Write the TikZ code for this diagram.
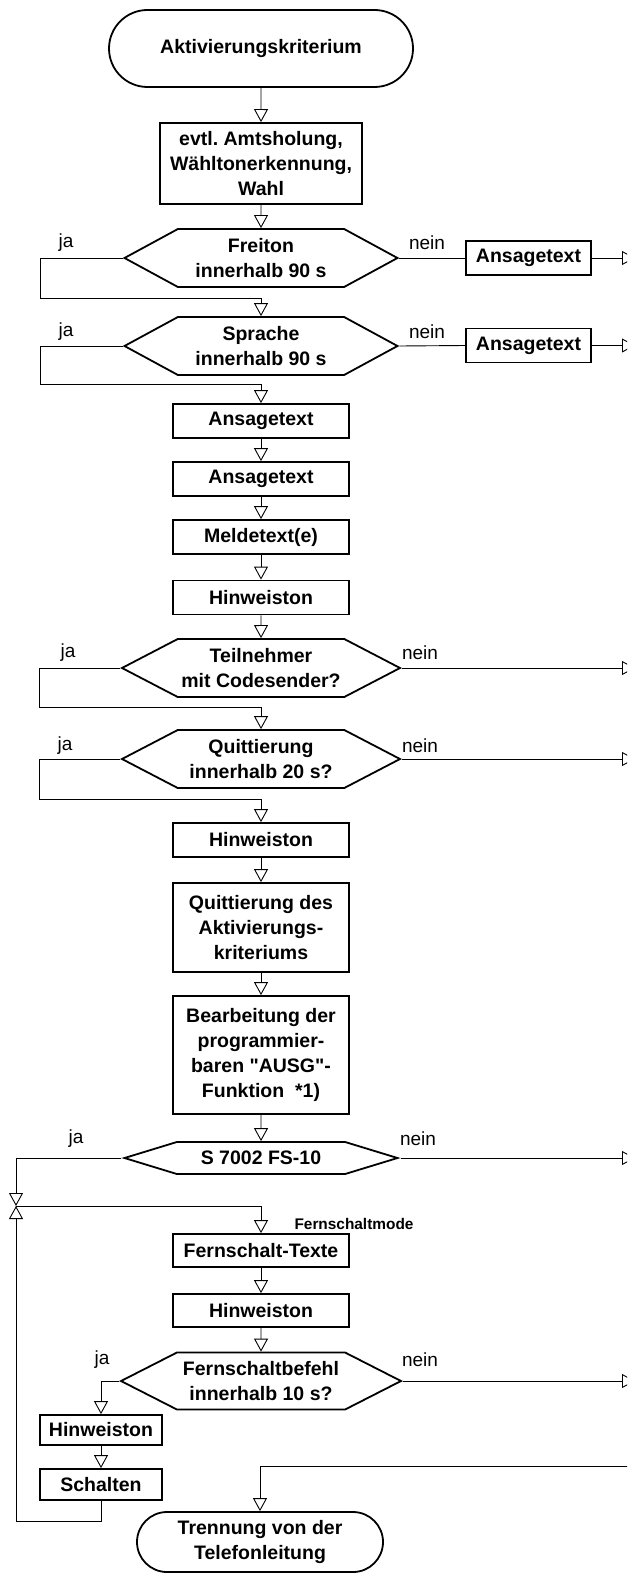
\documentclass[tikz,border=0pt]{standalone}
\usepackage{fontspec}
\setmainfont{Liberation Sans}[Ligatures=TeXOff]
\frenchspacing
\usetikzlibrary{arrows.meta,positioning,shapes.misc,shapes.symbols}

\begin{document}
\begin{tikzpicture}[x=1pt,y=-1pt,
    proc/.style={draw, line width=1.8pt, align=center, inner sep=1pt,
        font=\bfseries\fontsize{19.5}{25}\selectfont,
        minimum width=176pt, minimum height=34pt},
    term/.style={proc, rounded rectangle},
    decide/.style={proc, signal, signal to=east and west, signal pointer angle=#1},
    flow/.style={line width=0.9pt, -{Triangle[open,length=13pt,width=14pt]}},
    lbl/.style={font=\fontsize{19}{23}\selectfont, inner sep=0pt}]
    \useasboundingbox (0,0) rectangle (627,1573);
    \clip (0,0) rectangle (627,1573);

    % main column
    \node[term, minimum width=306pt, minimum height=77pt] (start) at (261,48.5) {Aktivierungskriterium};
    \node[proc, minimum width=202pt, minimum height=81pt] (amt) at (261,163.5) {evtl. Amtsholung,\\W\"ahltonerkennung,\\Wahl};
    \node[decide=57, minimum width=273pt, minimum height=58pt] (frei) at (261,258) {Freiton\\innerhalb 90 s};
    \node[proc, minimum width=125pt] (ans1) at (528.5,258) {Ansagetext};
    \node[decide=57, minimum width=273pt, minimum height=58pt] (spr) at (261,346) {Sprache\\innerhalb 90 s};
    \node[proc, minimum width=125pt] (ans2) at (528.5,345.5) {Ansagetext};
    \node[proc] (ans3) at (261,421) {Ansagetext};
    \node[proc] (ans4) at (261,479) {Ansagetext};
    \node[proc] (meld) at (261,537) {Meldetext(e)};
    \node[proc] (hin1) at (261,597.5) {Hinweiston};
    \node[decide=55, minimum width=278pt, minimum height=58pt] (teil) at (261,668) {Teilnehmer\\mit Codesender?};
    \node[decide=55, minimum width=278pt, minimum height=58pt] (quit) at (261,759) {Quittierung\\innerhalb 20 s?};
    \node[proc] (hin2) at (261,840) {Hinweiston};
    \node[proc, minimum height=89pt] (qdes) at (261,927.5) {Quittierung des\\Aktivierungs-\\kriteriums};
    \node[proc, minimum height=118pt] (bearb) at (261,1055) {Bearbeitung der\\programmier-\\baren "AUSG"-\\Funktion~ *1)};
    \node[decide=34, minimum width=273pt, minimum height=32pt] (fs) at (261,1158) {S 7002 FS-10};
    \node[proc, minimum height=33pt] (fstx) at (261,1250.5) {Fernschalt-Texte};
    \node[proc, minimum height=33pt] (hin3) at (261,1310.5) {Hinweiston};
    \node[decide=54, minimum width=280pt, minimum height=57pt] (fsb) at (261,1381) {Fernschaltbefehl\\innerhalb 10 s?};
    \node[proc, minimum width=122pt, minimum height=30pt] (hin4) at (101,1430) {Hinweiston};
    \node[proc, minimum width=122pt, minimum height=31pt] (schalt) at (101,1484.5) {Schalten};
    \node[term, minimum width=248pt, minimum height=60pt] (trenn) at (260,1542) {Trennung von der\\Telefonleitung};
    \node[font=\bfseries\fontsize{15.4}{18}\selectfont, inner sep=0pt] (mode) at (354,1224) {Fernschaltmode};

    % ja / nein
    \node[lbl] (ja1) at (66,243) {ja};
    \node[lbl] (nein1) at (427,243) {nein};
    \node[lbl] (ja2) at (66,332) {ja};
    \node[lbl] (nein2) at (427,332) {nein};
    \node[lbl] (ja3) at (68,653) {ja};
    \node[lbl] (nein3) at (420,653) {nein};
    \node[lbl] (ja4) at (65,746) {ja};
    \node[lbl] (nein4) at (420,746) {nein};
    \node[lbl] (ja5) at (76,1139) {ja};
    \node[lbl] (nein5) at (418,1139) {nein};
    \node[lbl] (ja6) at (102,1360) {ja};
    \node[lbl] (nein6) at (420,1360) {nein};

    % loop and exit points
    \coordinate (l1) at (40,298);
    \coordinate (l2) at (40,384);
    \coordinate (l3) at (39,707);
    \coordinate (l4) at (39,799);
    \coordinate (jn) at (16,1206);
    \coordinate (lb) at (16,1521);
    \coordinate (r1) at (635,258);
    \coordinate (r2) at (635,345.5);
    \coordinate (r3) at (635,668);
    \coordinate (r4) at (635,759);
    \coordinate (r5) at (635,1158);
    \coordinate (r6) at (635,1381);
    \coordinate (r7) at (640,1466);

    % connectors
    \draw[flow] (start) -- (amt);
    \draw[flow] (amt) -- (frei);
    \draw[line width=0.9pt] (frei.east) -- (ans1.west);
    \draw[flow] (ans1.east) -- (r1);
    \draw[flow] (frei.west) -| (l1) -| (spr.north);
    \draw[line width=0.9pt] (spr.east) -- (ans2.west);
    \draw[flow] (ans2.east) -- (r2);
    \draw[flow] (spr.west) -| (l2) -| (ans3.north);
    \draw[flow] (ans3) -- (ans4);
    \draw[flow] (ans4) -- (meld);
    \draw[flow] (meld) -- (hin1);
    \draw[flow] (hin1) -- (teil);
    \draw[flow] (teil.east) -- (r3);
    \draw[flow] (teil.west) -| (l3) -| (quit.north);
    \draw[flow] (quit.east) -- (r4);
    \draw[flow] (quit.west) -| (l4) -| (hin2.north);
    \draw[flow] (hin2) -- (qdes);
    \draw[flow] (qdes) -- (bearb);
    \draw[flow] (bearb) -- (fs);
    \draw[flow] (fs.east) -- (r5);
    \draw[flow] (fs.west) -| (jn);
    \draw[flow] (jn) -| (fstx.north);
    \draw[flow] (fstx) -- (hin3);
    \draw[flow] (hin3) -- (fsb);
    \draw[flow] (fsb.east) -- (r6);
    \draw[flow] (fsb.west) -| (hin4.north);
    \draw[flow] (hin4) -- (schalt);
    \draw[flow] (schalt.south) |- (lb) -- (jn);
    \draw[flow] (r7) -| (trenn.north);
\end{tikzpicture}
\end{document}
